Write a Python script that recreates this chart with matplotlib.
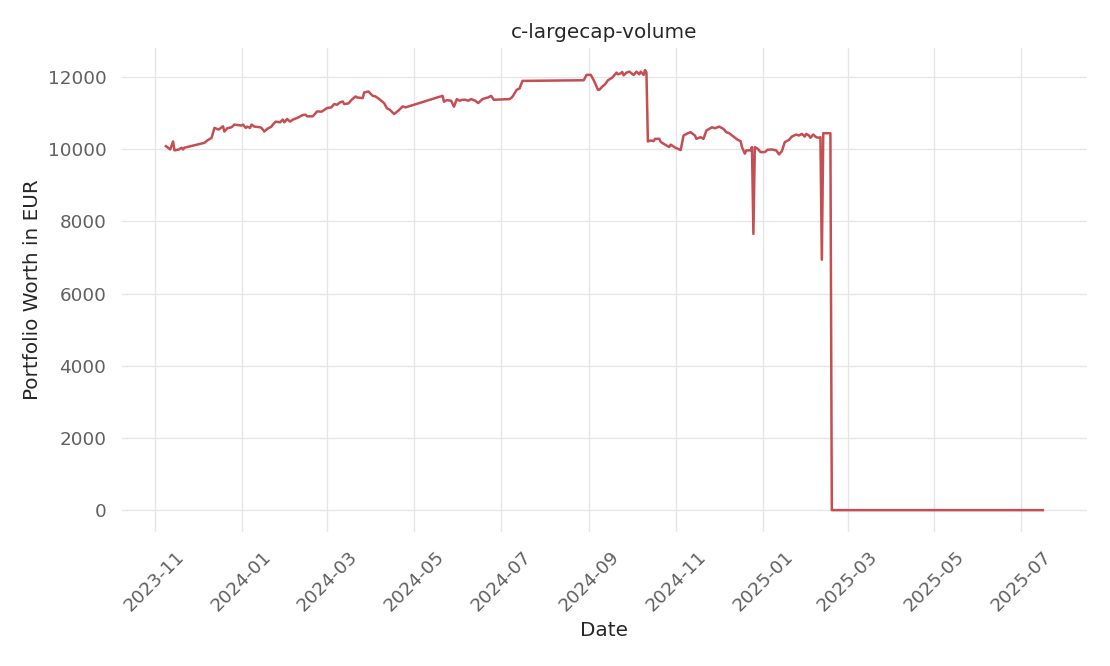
import pandas as pd
import matplotlib
matplotlib.use("Agg")
import matplotlib.pyplot as plt
import matplotlib.dates as mdates

# days after 2023-11-01
start = pd.Timestamp("2023-11-01")
day_offsets = [
    8, 11, 13, 14, 17, 19, 20, 21, 35, 37, 40, 42, 45, 48, 49, 51, 54, 56, 61, 62,
    64, 65, 67, 68, 70, 74, 75, 77, 79, 82, 83, 85, 88, 90, 91, 93, 95, 97, 100, 104,
    106, 107, 111, 114, 117, 119, 121, 124, 126, 128, 130, 132, 133, 136, 138, 141, 142, 146, 147, 150,
    153, 155, 157, 161, 163, 165, 168, 171, 174, 176, 202, 203, 205, 208, 210, 212, 214, 216, 218, 220,
    222, 225, 227, 230, 232, 234, 236, 238, 249, 251, 254, 256, 258, 301, 303, 306, 308, 309, 311, 312,
    314, 316, 318, 321, 322, 324, 325, 327, 328, 329, 331, 333, 336, 338, 340, 341, 343, 344, 345, 346,
    348, 350, 351, 354, 355, 359, 361, 362, 365, 369, 371, 374, 376, 379, 380, 383, 385, 387, 389, 391,
    393, 396, 399, 401, 403, 406, 409, 411, 412, 414, 415, 418, 419, 420, 421, 423, 425, 428, 430, 433,
    436, 438, 440, 442, 445, 447, 450, 452, 454, 456, 457, 459, 460, 462, 464, 466, 467, 468, 469, 474,
    475, 623,
]
worth = [
    10083, 9990, 10212, 9965, 9990, 10038, 9990, 10040, 10175, 10240, 10313, 10588, 10542, 10633, 10487, 10578, 10606, 10680, 10652, 10680,
    10588, 10624, 10588, 10680, 10624, 10606, 10588, 10487, 10560, 10624, 10680, 10762, 10743, 10817, 10743, 10836, 10762, 10817, 10863, 10945,
    10954, 10908, 10908, 11045, 11037, 11083, 11138, 11156, 11248, 11230, 11293, 11321, 11248, 11266, 11358, 11459, 11431, 11413, 11569, 11597,
    11477, 11459, 11404, 11276, 11129, 11092, 10973, 11065, 11184, 11156, 11477, 11312, 11358, 11340, 11174, 11386, 11340, 11367, 11367, 11340,
    11386, 11340, 11276, 11386, 11413, 11431, 11477, 11367, 11386, 11450, 11643, 11679, 11890, 11908, 12056, 12056, 11908, 11826, 11643, 11643,
    11734, 11798, 11908, 11981, 12027, 12119, 12073, 12101, 12137, 12046, 12119, 12146, 12055, 12146, 12073, 12146, 12055, 12193, 12119, 10212,
    10240, 10221, 10285, 10285, 10200, 10100, 10060, 10125, 10045, 9975, 10377, 10441, 10469, 10377, 10285, 10331, 10285, 10515, 10560, 10606,
    10578, 10624, 10560, 10469, 10441, 10349, 10258, 10221, 10056, 9873, 9965, 9965, 10056, 7652, 10056, 10010, 9918, 9918, 9983, 9991,
    9965, 9854, 9946, 10194, 10258, 10349, 10404, 10377, 10422, 10349, 10422, 10377, 10313, 10404, 10331, 10313, 10331, 6936, 10441, 10441,
    0, 0,
]

dates = start + pd.to_timedelta(day_offsets, unit="D")

fig, ax = plt.subplots(figsize=(11.1, 6.66), dpi=100)
ax.plot(dates, worth, color="#c44e52", linewidth=1.8)

ax.set_title("c-largecap-volume", fontsize=14.4, color="#262626", pad=7)
ax.set_xlabel("Date", fontsize=14.4, color="#262626")
ax.set_ylabel("Portfolio Worth in EUR", fontsize=14.4, color="#262626")

ax.xaxis.set_major_locator(mdates.MonthLocator(bymonth=[1, 3, 5, 7, 9, 11]))
ax.xaxis.set_major_formatter(mdates.DateFormatter("%Y-%m"))
ax.set_yticks([0, 2000, 4000, 6000, 8000, 10000, 12000])
plt.setp(ax.get_xticklabels(), rotation=45)
ax.tick_params(axis="both", labelsize=13.2, colors="#606060", length=0, pad=11.4)

ax.grid(True, color="#e6e6e6", linewidth=1.0)
ax.set_axisbelow(True)
for s in ax.spines.values():
    s.set_visible(False)

fig.subplots_adjust(left=0.11, right=0.979, top=0.928, bottom=0.201)
fig.savefig("out.png")
